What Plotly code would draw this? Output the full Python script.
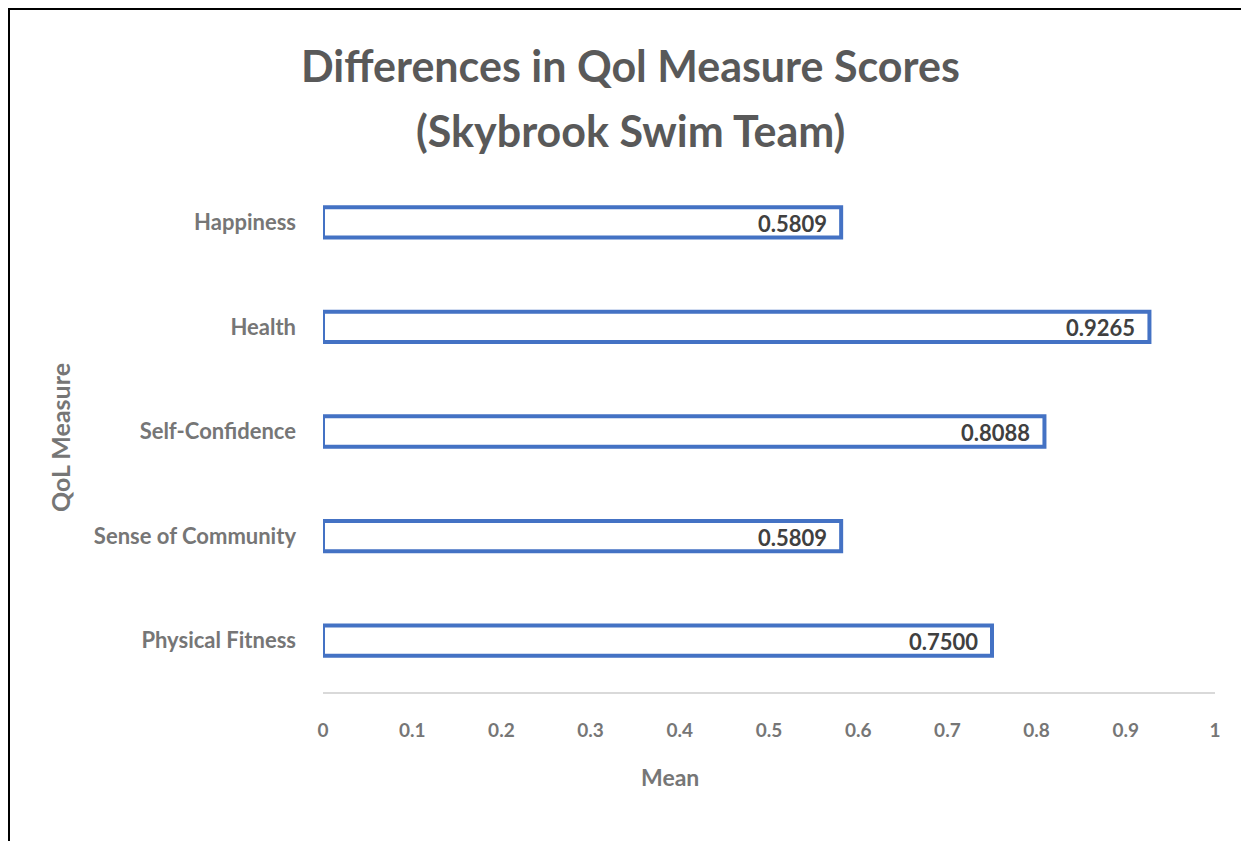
import plotly.graph_objects as go

categories = ["Physical Fitness", "Sense of Community", "Self-Confidence", "Health", "Happiness"]
means = [0.7500, 0.5809, 0.8088, 0.9265, 0.5809]
labels = ["0.7500", "0.5809", "0.8088", "0.9265", "0.5809"]
x_ticks = [0, 0.1, 0.2, 0.3, 0.4, 0.5, 0.6, 0.7, 0.8, 0.9, 1]
x_ticktext = ["0", "0.1", "0.2", "0.3", "0.4", "0.5", "0.6", "0.7", "0.8", "0.9", "1"]
title_lines = ["Differences in Qol Measure Scores", "(Skybrook Swim Team)"]

FONT = "Lato"
TITLE_GREY = "#595959"
AXIS_GREY = "#767676"

# page has an 8px body margin; figure sized to fit the window
W, H = 1241, 833
L, R, T, B = 315, 34, 162, 148
pw = W - L - R
ph = H - T - B


def px(x):
    return (x - L) / pw


def py(y):
    return (H - B - y) / ph


fig = go.Figure()
fig.add_trace(go.Bar(
    y=categories, x=means, orientation="h",
    width=0.29,
    marker=dict(color="white", line=dict(color="#4472C4", width=4)),
    showlegend=False, hoverinfo="x+y",
))

annotations = []
for cat, val, lab in zip(categories, means, labels):
    annotations.append(dict(
        x=val, y=cat, xref="x", yref="y", text=lab, showarrow=False,
        xanchor="right", yanchor="middle", xshift=-12, yshift=-1,
        font=dict(family=FONT, size=22, color="#404040", weight="bold"),
    ))

for line, yc in zip(title_lines, [57, 122]):
    annotations.append(dict(
        text=line, xref="paper", yref="paper", x=px(622), y=py(yc),
        showarrow=False, xanchor="center", yanchor="middle",
        font=dict(family=FONT, size=43, color=TITLE_GREY, weight="bold"),
    ))

annotations.append(dict(
    text="Mean", xref="paper", yref="paper", x=px(662), y=py(769),
    showarrow=False, xanchor="center", yanchor="middle",
    font=dict(family=FONT, size=23, color=AXIS_GREY, weight="bold")))
annotations.append(dict(
    text="QoL Measure", xref="paper", yref="paper", x=px(52), y=py(430),
    showarrow=False, xanchor="center", yanchor="middle", textangle=-90,
    font=dict(family=FONT, size=25, color=AXIS_GREY, weight="bold")))

fig.update_layout(
    width=W, height=H,
    margin=dict(l=L, r=R, t=T, b=B, pad=0),
    plot_bgcolor="white", paper_bgcolor="white",
    font=dict(family=FONT, color=AXIS_GREY),
    xaxis=dict(
        range=[0, 1], tickvals=x_ticks, ticktext=x_ticktext,
        showgrid=False, zeroline=False, showline=False,
        tickfont=dict(family=FONT, size=19, color=AXIS_GREY, weight="bold"),
        ticks="", ticklabelstandoff=24,
    ),
    yaxis=dict(
        categoryorder="array", categoryarray=categories,
        range=[-0.5, 4.5],
        showgrid=False, zeroline=False, showline=False,
        tickfont=dict(family=FONT, size=22, color=AXIS_GREY, weight="bold"),
        ticks="", ticklabelstandoff=26,
    ),
    shapes=[
        dict(type="line", xref="paper", yref="paper", x0=0, x1=1, y0=0, y1=0,
             line=dict(color="#D9D9D9", width=2)),
        dict(type="line", xref="paper", yref="paper", x0=px(0), x1=px(W), y0=py(0.5), y1=py(0.5),
             line=dict(color="black", width=3)),
        dict(type="line", xref="paper", yref="paper", x0=px(0.5), x1=px(0.5), y0=py(0), y1=py(H),
             line=dict(color="black", width=3)),
    ],
    annotations=annotations,
)

fig.write_html("out.html")
